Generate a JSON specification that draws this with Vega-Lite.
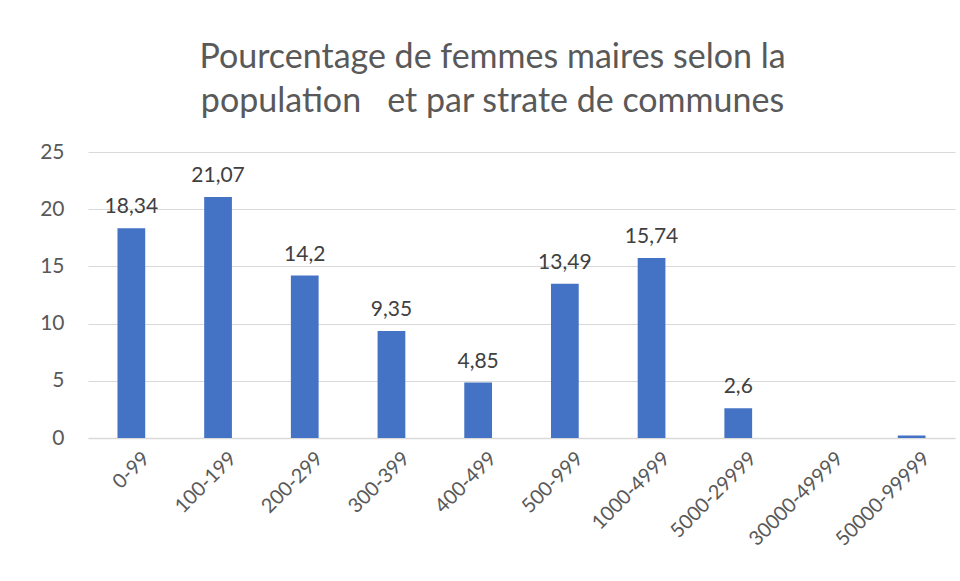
{
  "$schema": "https://vega.github.io/schema/vega-lite/v6.json",
  "autosize": "none",
  "width": 867,
  "height": 286,
  "padding": {"left": 88, "top": 152, "right": 5, "bottom": 143},
  "background": "white",
  "title": {
    "text": ["Pourcentage de femmes maires selon la", "population \u00a0 et par strate de communes"],
    "anchor": "middle",
    "dx": -29,
    "offset": 22,
    "font": "Lato",
    "fontSize": 34,
    "fontWeight": "normal",
    "color": "#595959",
    "lineHeight": 44
  },
  "data": {
    "values": [
      {"strate": "0-99", "pct": 18.34, "label": "18,34"},
      {"strate": "100-199", "pct": 21.07, "label": "21,07"},
      {"strate": "200-299", "pct": 14.2, "label": "14,2"},
      {"strate": "300-399", "pct": 9.35, "label": "9,35"},
      {"strate": "400-499", "pct": 4.85, "label": "4,85"},
      {"strate": "500-999", "pct": 13.49, "label": "13,49"},
      {"strate": "1000-4999", "pct": 15.74, "label": "15,74"},
      {"strate": "5000-29999", "pct": 2.6, "label": "2,6"},
      {"strate": "30000-49999", "pct": 0, "label": ""},
      {"strate": "50000-99999", "pct": 0.22, "label": ""}
    ]
  },
  "encoding": {
    "x": {
      "field": "strate",
      "type": "nominal",
      "sort": null,
      "title": null,
      "scale": {"paddingInner": 0.68, "paddingOuter": 0.34},
      "axis": {
        "labelAngle": -45,
        "labelFont": "Lato",
        "labelFontSize": 20,
        "labelColor": "#595959",
        "labelPadding": 10,
        "labelOffset": 8,
        "ticks": false,
        "domainColor": "#d9d9d9",
        "domainWidth": 1.5
      }
    },
    "y": {
      "field": "pct",
      "type": "quantitative",
      "title": null,
      "scale": {"domain": [0, 25]},
      "axis": {
        "values": [0, 5, 10, 15, 20, 25],
        "labelFont": "Lato",
        "labelFontSize": 21,
        "labelColor": "#595959",
        "labelPadding": 24,
        "ticks": false,
        "domain": false,
        "gridColor": "#d9d9d9",
        "gridWidth": 1.2
      }
    }
  },
  "layer": [
    {"mark": {"type": "bar", "color": "#4472C4"}},
    {
      "mark": {"type": "text", "baseline": "bottom", "dy": -11, "font": "Lato", "fontSize": 21, "color": "#404040"},
      "encoding": {"text": {"field": "label"}}
    }
  ],
  "config": {"view": {"stroke": null}}
}
